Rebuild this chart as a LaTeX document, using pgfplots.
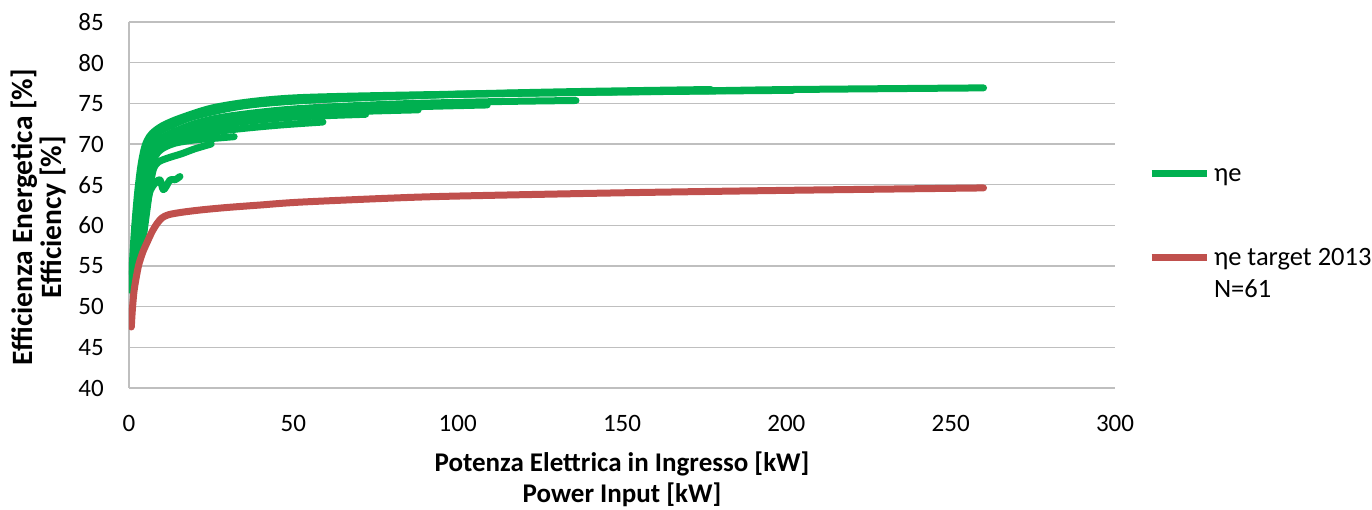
\documentclass[border=0pt]{standalone}
\usepackage{fontspec}
\setmainfont{Carlito}
\usepackage{pgfplots}
\pgfplotsset{compat=1.18}
\definecolor{egreen}{RGB}{0,176,80}
\definecolor{ered}{RGB}{192,80,77}
\definecolor{gridgray}{RGB}{191,191,191}
\newcommand{\fs}{\fontsize{25}{30}\selectfont}
\begin{document}
\begin{tikzpicture}
\path[use as bounding box] (-129pt,-122pt) rectangle (1243pt,388pt);
\begin{axis}[
  at={(0pt,0pt)}, anchor=south west,
  scale only axis, width=986pt, height=366pt,
  xmin=0, xmax=300, ymin=40, ymax=85,
  enlargelimits=false,
  xtick={0,50,...,300}, ytick={40,45,...,85},
  major tick length=0pt,
  axis lines=left,
  axis line style={-, draw=gridgray, line width=1.5pt},
  ymajorgrids, grid style={draw=gridgray, line width=1.5pt},
  /pgf/number format/assume math mode=true,
  tick label style={font=\fs, inner sep=0pt},
  xticklabel style={anchor=north, yshift=-27pt},
  yticklabel style={anchor=east, xshift=-25pt},
  xlabel={Potenza Elettrica in Ingresso [kW]\\Power Input [kW]},
  xlabel style={font=\fontsize{27}{31}\selectfont\bfseries, align=center, at={(axis description cs:0.5,0)}, anchor=north, yshift=-64pt, inner sep=0pt},
  ylabel={Efficienza Energetica [\%]\\Efficiency [\%]},
  ylabel style={font=\fontsize{29.5}{29}\selectfont\bfseries, align=center, at={(axis description cs:-0.0918,0.467)}, anchor=center, inner sep=0pt},
  legend image code/.code={\draw[#1, line cap=butt] (0pt,0pt) -- (55pt,0pt);},
  legend cell align=left,
  legend style={at={(axis description cs:1.0335,0.6311)}, anchor=north west, draw=none, fill=none, inner sep=0pt, outer sep=0pt, row sep=0pt, column sep=4pt, font=\fontsize{26.5}{30}\selectfont, nodes={inner sep=0pt, text height=24pt, text depth=8pt}},
  every axis plot/.append style={line width=7pt, line join=round, line cap=round},
]
% green: several units
\addplot[egreen, smooth, tension=0.5] coordinates {(0.6,52) (1.5,58.5) (2.5,63.5) (3.5,67) (4.5,69.2) (5.5,70.4) (7,71.3) (10,72.2) (15,73.1) (25,74.4) (37,75.2) (52,75.7) (82,76.0) (130,76.3) (177,76.55) (202,76.7) (260,76.9)};
\addlegendentry{ηe}
\addplot[egreen, smooth, tension=0.5, forget plot] coordinates {(1,54) (2,60) (3,64.5) (4,67.5) (5,69.5) (6.5,70.9) (9,71.8) (15,72.9) (25,74.1) (40,75.0) (60,75.5) (100,76.1) (150,76.4) (202,76.6)};
\addplot[egreen, smooth, tension=0.5, forget plot] coordinates {(1.2,55) (2.5,61) (3.5,65) (4.5,68) (6,70.3) (8,71.2) (12,72.1) (20,73.4) (35,74.7) (55,75.4) (90,76.0) (130,76.4) (177,76.7)};
\addplot[egreen, smooth, tension=0.5, forget plot] coordinates {(1.5,54) (3,60) (4.5,65) (6,68.5) (8,70.2) (12,71.2) (20,72.5) (30,73.4) (50,74.3) (80,74.9) (110,75.2) (136,75.35)};
\addplot[egreen, smooth, tension=0.5, forget plot] coordinates {(2,55) (3.5,61) (5,66) (6.5,68.8) (8.5,70) (12,70.9) (20,72.1) (30,73.0) (50,74.0) (80,74.5) (109,74.8)};
\addplot[egreen, smooth, tension=0.5, forget plot] coordinates {(2.5,56) (4,62) (5.5,66.5) (7,69) (9,70) (12,70.7) (20,71.9) (30,72.7) (50,73.6) (70,74.0) (88,74.2)};
\addplot[egreen, smooth, tension=0.5, forget plot] coordinates {(3,57) (4.5,62.5) (6,67) (7.5,69) (10,70.2) (15,71.1) (22,71.9) (32,72.6) (50,73.3) (72,73.65)};
\addplot[egreen, smooth, tension=0.5, forget plot] coordinates {(3.5,58) (5,63) (6.5,67.2) (8,68.8) (10,69.6) (14,70.4) (20,71.0) (30,71.7) (45,72.3) (59,72.7)};
\addplot[egreen, smooth, tension=0.5, forget plot] coordinates {(4,58.5) (5.5,63.5) (6.5,66.5) (8,68.5) (10,69.4) (14,70.1) (20,70.5) (26,70.7) (32,70.9)};
\addplot[egreen, smooth, tension=0.5, forget plot] coordinates {(4.5,59) (5.5,62) (6.5,65) (7.5,67) (9,67.8) (12,68.3) (16,68.8) (20,69.4) (25,70.0)};
\addplot[egreen, smooth, tension=0.5, forget plot] coordinates {(3.5,56) (4.5,59.5) (5.5,62.5) (6.5,64.3) (8,65.2) (9.4,65.6) (10.4,64.4) (11.5,64.9) (12.5,65.6) (14,65.6) (15.5,66)};
\addlegendimage{empty legend}
\addlegendentry[text height=26pt, text depth=26pt]{\mbox{}}
% red target
\addplot[ered, smooth, tension=0.5] coordinates {(0.7,47.5) (1,49.5) (1.5,51.8) (2.2,53.6) (3,55.2) (4.2,56.7) (5.5,57.9) (7,59.2) (8.5,60.2) (10,60.9) (12,61.3) (16,61.6) (22,61.9) (30,62.2) (40,62.5) (52,62.85) (80,63.35) (100,63.6) (150,64.0) (200,64.3) (260,64.6)};
\addlegendentry{ηe target 2013}
\addlegendimage{empty legend}
\addlegendentry{N=61}
\end{axis}
\end{tikzpicture}
\end{document}
